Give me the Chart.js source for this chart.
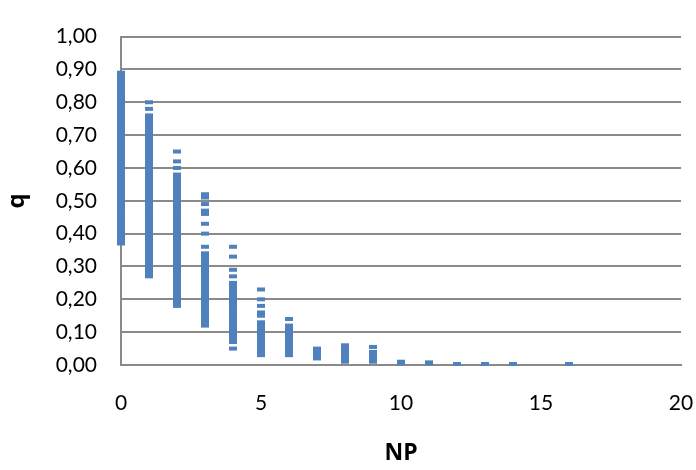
<!DOCTYPE html>
<html>
<head>
<meta charset="utf-8">
<script src="https://cdn.jsdelivr.net/npm/chart.js@4.4.1/dist/chart.umd.min.js"></script>
<style>
  html, body { margin: 0; padding: 0; background: #fff; }
</style>
</head>
<body>
<canvas id="chart" width="696" height="470"></canvas>
<script>
// NP values (x) at which q was observed
const npLevels = [0, 1, 2, 3, 4, 5, 6, 7, 8, 9, 10, 11, 12, 13, 14, 16];

// q values, one list per NP value
const qAt0 = [0.37, 0.38, 0.39, 0.40, 0.41, 0.42, 0.43, 0.44, 0.45, 0.46, 0.47, 0.48, 0.49, 0.50,
  0.51, 0.52, 0.53, 0.54, 0.55, 0.56, 0.57, 0.58, 0.59, 0.60, 0.61, 0.62, 0.63, 0.64, 0.65, 0.66,
  0.67, 0.68, 0.69, 0.70, 0.71, 0.72, 0.73, 0.74, 0.75, 0.76, 0.77, 0.78, 0.79, 0.80, 0.81, 0.82,
  0.83, 0.84, 0.85, 0.86, 0.87, 0.88, 0.89];
const qAt1 = [0.27, 0.28, 0.29, 0.30, 0.31, 0.32, 0.33, 0.34, 0.35, 0.36, 0.37, 0.38, 0.39, 0.40,
  0.41, 0.42, 0.43, 0.44, 0.45, 0.46, 0.47, 0.48, 0.49, 0.50, 0.51, 0.52, 0.53, 0.54, 0.55, 0.56,
  0.57, 0.58, 0.59, 0.60, 0.61, 0.62, 0.63, 0.64, 0.65, 0.66, 0.67, 0.68, 0.69, 0.70, 0.71, 0.72,
  0.73, 0.74, 0.75, 0.76, 0.78, 0.80];
const qAt2 = [0.18, 0.19, 0.20, 0.21, 0.22, 0.23, 0.24, 0.25, 0.26, 0.27, 0.28, 0.29, 0.30, 0.31,
  0.32, 0.33, 0.34, 0.35, 0.36, 0.37, 0.38, 0.39, 0.40, 0.41, 0.42, 0.43, 0.44, 0.45, 0.46, 0.47,
  0.48, 0.49, 0.50, 0.51, 0.52, 0.53, 0.54, 0.55, 0.56, 0.57, 0.58, 0.60, 0.62, 0.65];
const qAt3 = [0.12, 0.13, 0.14, 0.15, 0.16, 0.17, 0.18, 0.19, 0.20, 0.21, 0.22, 0.23, 0.24, 0.25,
  0.26, 0.27, 0.28, 0.29, 0.30, 0.31, 0.32, 0.33, 0.34, 0.36, 0.40, 0.43, 0.46, 0.47, 0.49, 0.51, 0.52];
const qAt4 = [0.05, 0.07, 0.08, 0.09, 0.10, 0.11, 0.12, 0.13, 0.14, 0.15, 0.16, 0.17, 0.18, 0.19,
  0.20, 0.21, 0.22, 0.23, 0.24, 0.25, 0.27, 0.29, 0.33, 0.36];
const qAt5 = [0.03, 0.04, 0.05, 0.06, 0.07, 0.08, 0.09, 0.10, 0.11, 0.12, 0.13, 0.15, 0.16, 0.18, 0.20, 0.23];
const qAt6 = [0.03, 0.04, 0.05, 0.06, 0.07, 0.08, 0.09, 0.10, 0.11, 0.12, 0.14];
const qAt7 = [0.02, 0.03, 0.04, 0.05];
const qAt8 = [0.01, 0.02, 0.03, 0.04, 0.05, 0.06];
const qAt9 = [0.01, 0.02, 0.03, 0.04, 0.055];
const qAt10 = [0.005, 0.01];
const qAt11 = [0.005, 0.008];
const qAt12 = [0.003];
const qAt13 = [0.003];
const qAt14 = [0.003];
const qAt16 = [0.003];

const qColumns = [qAt0, qAt1, qAt2, qAt3, qAt4, qAt5, qAt6, qAt7, qAt8, qAt9,
  qAt10, qAt11, qAt12, qAt13, qAt14, qAt16];

// tick labels
const yTickLabels = ['0,00', '0,10', '0,20', '0,30', '0,40', '0,50', '0,60', '0,70', '0,80', '0,90', '1,00'];
const xTickLabels = ['0', '5', '10', '15', '20'];

// punkty dla wykresu
const points = [];
npLevels.forEach((np, i) => {
  qColumns[i].forEach(q => points.push({ x: np, y: q }));
});

const lineColor = '#8a8a8a';

new Chart(document.getElementById('chart').getContext('2d'), {
  type: 'scatter',
  data: {
    datasets: [{
      data: points,
      pointStyle: 'line',
      radius: 4,
      hoverRadius: 4,
      borderWidth: 4,
      borderColor: '#4F81BD',
      backgroundColor: '#4F81BD',
      clip: false
    }]
  },
  options: {
    responsive: false,
    animation: false,
    events: [],
    layout: { padding: { left: 0, right: 15, top: 19, bottom: 0 } },
    plugins: { legend: { display: false }, tooltip: { enabled: false } },
    scales: {
      x: {
        type: 'linear',
        min: 0,
        max: 20,
        afterFit: scale => { scale.height = 105; },
        // niewidoczne kreski podziałki tylko odsuwają etykiety w dół
        grid: { display: true, color: 'rgba(0,0,0,0)', drawOnChartArea: false, drawTicks: true, tickLength: 24 },
        border: { display: true, color: lineColor, width: 2 },
        ticks: {
          stepSize: 5,
          padding: 2,
          color: '#000',
          font: { family: 'Lato', size: 21 },
          callback: (v, i) => xTickLabels[i]
        },
        title: {
          display: true,
          text: 'NP',
          color: '#000',
          font: { family: 'Open Sans', size: 23, weight: 'bold' },
          padding: { top: 0, bottom: 3 }
        }
      },
      y: {
        min: 0,
        max: 1,
        afterFit: scale => { scale.width = 121; },
        grid: { color: lineColor, lineWidth: 2, drawTicks: false },
        border: { display: true, color: lineColor, width: 2 },
        ticks: {
          stepSize: 0.1,
          padding: 24,
          color: '#000',
          font: { family: 'Lato', size: 21 },
          callback: (v, i) => yTickLabels[i]
        },
        title: {
          display: true,
          text: 'q',
          color: '#000',
          font: { family: 'Open Sans', size: 24, weight: 'bold' },
          padding: { top: 3, bottom: 0 }
        }
      }
    }
  }
});
</script>
</body>
</html>
